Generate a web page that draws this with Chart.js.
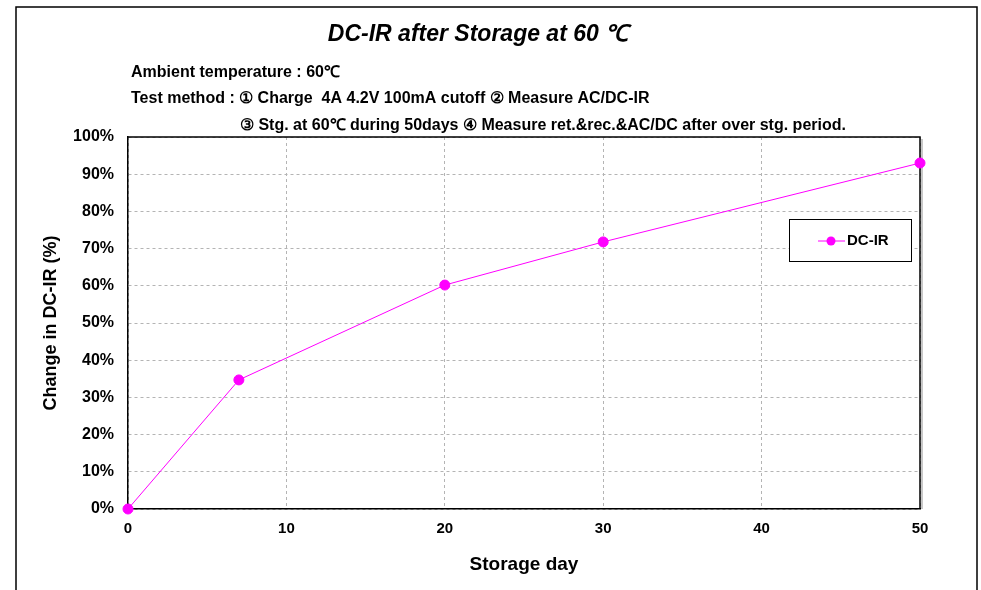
<!DOCTYPE html>
<html>
<head>
<meta charset="utf-8">
<script src="https://cdn.jsdelivr.net/npm/chart.js@4"></script>
<style>
  html, body { margin: 0; padding: 0; background: #fff; }
  #wrap { position: relative; width: 981px; height: 590px; }
</style>
</head>
<body>
<div id="wrap"><canvas id="grafico" width="981" height="590"></canvas></div>
<script>
const dias = [0, 7, 20, 30, 50];
const dcir = [0, 34.7, 60.2, 71.8, 93.0];
const titulo = 'DC-IR after Storage at 60 ℃';
const notas = [
  'Ambient temperature : 60℃',
  'Test method : ① Charge  4A 4.2V 100mA cutoff ② Measure AC/DC-IR',
  '③ Stg. at 60℃ during 50days ④ Measure ret.&rec.&AC/DC after over stg. period.'
];

const FONTE = '"Liberation Sans", Arial, sans-serif';
const MAGENTA = '#ff00ff';

// moldura, textos, borda do grafico e legenda
const decoracao = {
  id: 'decoracao',
  beforeDraw(chart) {
    const ctx = chart.ctx;
    ctx.save();
    ctx.fillStyle = '#fff';
    ctx.fillRect(0, 0, chart.width, chart.height);
    ctx.strokeStyle = '#000';
    ctx.lineWidth = 1.5;
    ctx.beginPath();
    ctx.moveTo(16, 590);
    ctx.lineTo(16, 7);
    ctx.lineTo(977, 7);
    ctx.lineTo(977, 590);
    ctx.stroke();
    ctx.restore();
  },
  beforeDatasetsDraw(chart) {
    const ctx = chart.ctx;
    const a = chart.chartArea;
    ctx.save();
    // borda superior e direita
    ctx.strokeStyle = '#c8c8c8';
    ctx.lineWidth = 2;
    ctx.beginPath();
    ctx.moveTo(a.right + 2, a.top + 2);
    ctx.lineTo(a.right + 2, a.bottom);
    ctx.stroke();
    ctx.strokeStyle = '#000';
    ctx.lineWidth = 1.5;
    ctx.beginPath();
    ctx.moveTo(a.left, a.top);
    ctx.lineTo(a.right, a.top);
    ctx.lineTo(a.right, a.bottom);
    ctx.stroke();

    // titulo
    ctx.fillStyle = '#000';
    ctx.textBaseline = 'middle';
    ctx.textAlign = 'center';
    ctx.font = 'italic bold 23px ' + FONTE;
    ctx.fillText(titulo, 478, 35);

    ctx.textAlign = 'left';
    ctx.font = 'bold 16px ' + FONTE;
    ctx.fillText(notas[0], 131, 73);
    ctx.fillText(notas[1], 131, 99);
    ctx.fillText(notas[2], 240, 126);
    ctx.restore();
  },
  afterDatasetsDraw(chart) {
    const ctx = chart.ctx;
    ctx.save();
    // legenda
    const ds = chart.data.datasets[0];
    ctx.fillStyle = '#fff';
    ctx.fillRect(789, 219, 123, 43);
    ctx.strokeStyle = '#000';
    ctx.lineWidth = 1;
    ctx.strokeRect(789.5, 219.5, 122, 42);
    ctx.strokeStyle = ds.borderColor;
    ctx.beginPath();
    ctx.moveTo(818, 241);
    ctx.lineTo(845, 241);
    ctx.stroke();
    ctx.fillStyle = ds.pointBackgroundColor;
    ctx.beginPath();
    ctx.arc(831, 241, 4.5, 0, Math.PI * 2);
    ctx.fill();
    ctx.fillStyle = '#000';
    ctx.textBaseline = 'middle';
    ctx.font = 'bold 15px ' + FONTE;
    ctx.fillText(ds.label, 847, 241);
    ctx.restore();
  }
};

new Chart(document.getElementById('grafico').getContext('2d'), {
  type: 'line',
  data: {
    datasets: [{
      label: 'DC-IR',
      data: dias.map((d, i) => ({ x: d, y: dcir[i] })),
      borderColor: MAGENTA,
      backgroundColor: MAGENTA,
      pointBackgroundColor: MAGENTA,
      pointBorderColor: MAGENTA,
      borderWidth: 1,
      pointRadius: 5,
      tension: 0,
      clip: false
    }]
  },
  options: {
    responsive: false,
    animation: false,
    layout: { padding: { left: 40, top: 137, right: 61, bottom: 12 } },
    plugins: {
      legend: { display: false },
      tooltip: { enabled: false }
    },
    scales: {
      x: {
        type: 'linear',
        min: 0,
        max: 50,
        afterFit: s => { s.height = 69; },
        ticks: {
          stepSize: 10,
          padding: 11,
          color: '#000',
          font: { family: FONTE, size: 15, weight: 'bold' }
        },
        grid: {
          color: '#b4b4b4',
          drawTicks: false
        },
        border: { color: '#000', width: 1.5, dash: [3, 3] },
        title: {
          display: true,
          text: 'Storage day',
          color: '#000',
          padding: { top: 0, bottom: 2 },
          font: { family: FONTE, size: 19, weight: 'bold' }
        }
      },
      y: {
        min: 0,
        max: 100,
        afterFit: s => { s.width = 88; },
        ticks: {
          stepSize: 10,
          padding: 14,
          color: '#000',
          callback: v => v + '%',
          font: { family: FONTE, size: 16, weight: 'bold' }
        },
        grid: {
          color: '#b4b4b4',
          drawTicks: false
        },
        border: { color: '#000', width: 1.5, dash: [3, 3] },
        title: {
          display: true,
          text: 'Change in DC-IR (%)',
          color: '#000',
          padding: 0,
          font: { family: FONTE, size: 18, weight: 'bold' }
        }
      }
    }
  },
  plugins: [decoracao]
});
</script>
</body>
</html>
